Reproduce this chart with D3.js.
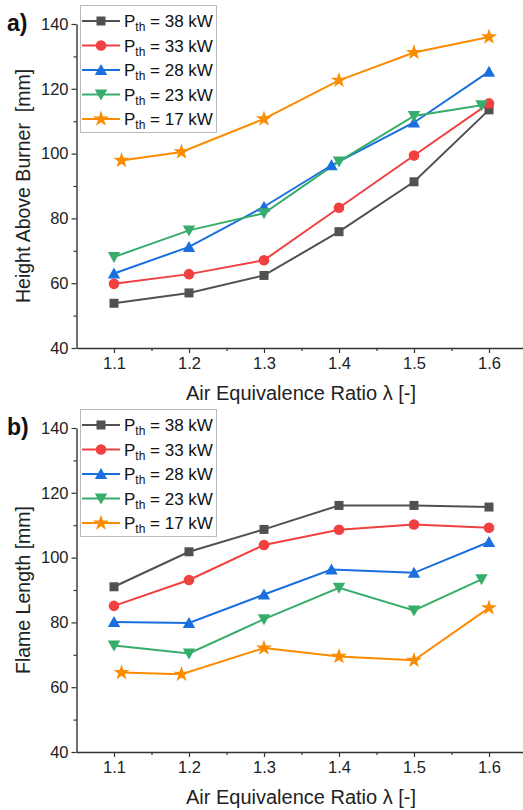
<!DOCTYPE html>
<html>
<head>
<meta charset="utf-8">
<script src="https://cdn.jsdelivr.net/npm/d3@7"></script>
<style>
  body { margin: 0; background: #fff; }
  svg { display: block; font-family: Arial, "Liberation Sans", sans-serif; }
</style>
</head>
<body>
<svg></svg>
<script>
// x values (air equivalence ratio)
const lambda = [1.1, 1.2, 1.3, 1.4, 1.5, 1.6];
const lambdaP17 = [1.11, 1.19, 1.3, 1.4, 1.5, 1.6];
const lambdaP28 = [1.1, 1.2, 1.3, 1.39, 1.5, 1.6];
const lambdaP23 = [1.1, 1.2, 1.3, 1.4, 1.5, 1.59];

const powers = ['38', '33', '28', '23', '17'];

// a) height above burner [mm]
const heightP38 = [53.8, 57.0, 62.4, 75.9, 91.3, 113.5];
const heightP33 = [59.8, 62.8, 67.1, 83.3, 99.4, 115.5];
const heightP28 = [63.0, 71.2, 83.6, 96.4, 109.6, 125.3];
const heightP23 = [68.1, 76.3, 81.6, 97.6, 111.6, 114.9];
const heightP17 = [97.9, 100.5, 110.7, 122.6, 131.2, 136.0];

// b) flame length [mm]
const lengthP38 = [91.0, 101.8, 108.7, 116.1, 116.1, 115.6];
const lengthP33 = [85.1, 93.1, 103.9, 108.6, 110.2, 109.2];
const lengthP28 = [80.1, 79.8, 88.6, 96.3, 95.3, 104.8];
const lengthP23 = [72.9, 70.4, 81.0, 90.7, 83.7, 93.3];
const lengthP17 = [64.5, 64.0, 72.1, 69.5, 68.3, 84.5];

const yTicks = [40, 60, 80, 100, 120, 140];
const yMinor = [50, 70, 90, 110, 130];
const xTicks = [1.1, 1.2, 1.3, 1.4, 1.5, 1.6];
const xMinor = [1.15, 1.25, 1.35, 1.45, 1.55];

const COLORS = ['#515151', '#f14040', '#1a6fdf', '#37ad6b', '#fb8c00'];
const SYMBOLS = ['square', 'circle', 'up', 'down', 'star'];

const svg = d3.select('svg').attr('width', 523).attr('height', 810);

const x = d3.scaleLinear().domain([1.05, 1.65]).range([76.5, 526.5]);

// draws one marker centred on 0,0
function marker(g, kind, color) {
    if (kind === 'square') {
        g.append('rect').attr('x', -4.5).attr('y', -4.5).attr('width', 9).attr('height', 9).attr('fill', color);
    } else if (kind === 'circle') {
        g.append('circle').attr('r', 5.3).attr('fill', color);
    } else if (kind === 'up') {
        g.append('path').attr('d', 'M0,-6 L6.2,5 L-6.2,5 Z').attr('fill', color);
    } else if (kind === 'down') {
        g.append('path').attr('d', 'M0,6 L6.2,-5 L-6.2,-5 Z').attr('fill', color);
    } else {
        g.append('path').attr('d', d3.symbol(d3.symbolStar, 80)()).attr('fill', color);
    }
}

function drawPanel(top, label, yTitle, series) {
    const y = d3.scaleLinear().domain([40, 140]).range([top + 324, top]);
    const g = svg.append('g');

    // axes
    g.append('g').attr('transform', 'translate(76.5,0)')
        .call(d3.axisLeft(y).tickValues(yTicks).tickSize(5).tickSizeOuter(0).tickPadding(3));
    g.append('g').attr('transform', 'translate(76.5,0)')
        .call(d3.axisLeft(y).tickValues(yMinor).tickSize(3).tickFormat(''))
        .select('.domain').remove();
    g.append('g').attr('transform', `translate(0,${top + 324})`)
        .call(d3.axisBottom(x).tickValues(xTicks).tickSize(5).tickSizeOuter(0).tickPadding(4).tickFormat(d3.format('.1f')));
    g.append('g').attr('transform', `translate(0,${top + 324})`)
        .call(d3.axisBottom(x).tickValues(xMinor).tickSize(3).tickFormat(''))
        .select('.domain').remove();

    g.selectAll('.domain').attr('stroke', '#333').attr('stroke-width', 1.4);
    g.selectAll('.tick line').attr('stroke', '#333').attr('stroke-width', 1.2);
    g.selectAll('.tick text').attr('fill', '#222').style('font-size', '16.5px');

    g.append('text').attr('transform', `translate(25,${top + 162}) rotate(-90)`)
        .attr('text-anchor', 'middle').attr('dominant-baseline', 'middle')
        .style('font-size', '19.5px').attr('fill', '#222').style('white-space', 'pre')
        .text(yTitle);
    g.append('text').attr('x', 301).attr('y', top + 371)
        .attr('text-anchor', 'middle').attr('dominant-baseline', 'middle')
        .style('font-size', '20px').attr('fill', '#222')
        .text('Air Equivalence Ratio λ [-]');

    g.append('text').attr('x', 7).attr('y', top + 1)
        .attr('dominant-baseline', 'middle')
        .style('font-size', '23px').style('font-weight', 'bold').attr('fill', '#111')
        .text(label);

    // lines and markers
    series.forEach((s, i) => {
        const pts = s.xs.map((v, k) => [x(v), y(s.ys[k])]);
        g.append('path').attr('d', d3.line()(pts))
            .attr('fill', 'none').attr('stroke', COLORS[i]).attr('stroke-width', 2);
    });
    series.forEach((s, i) => {
        s.xs.forEach((v, k) => {
            const m = g.append('g').attr('transform', `translate(${x(v)},${y(s.ys[k])})`);
            marker(m, SYMBOLS[i], COLORS[i]);
        });
    });

    // legend
    const lg = g.append('g');
    lg.append('rect').attr('x', 80.5).attr('y', top - 18.5).attr('width', 136).attr('height', 127)
        .attr('fill', '#fff').attr('stroke', '#bbb').attr('stroke-width', 1);
    powers.forEach((p, i) => {
        const ly = top - 3 + i * 24.5;
        lg.append('line').attr('x1', 82).attr('x2', 120).attr('y1', ly).attr('y2', ly)
            .attr('stroke', COLORS[i]).attr('stroke-width', 2);
        const m = lg.append('g').attr('transform', `translate(101,${ly})`);
        marker(m, SYMBOLS[i], COLORS[i]);
        const t = lg.append('text').attr('x', 124).attr('y', ly + 6)
            .style('font-size', '17px').attr('fill', '#111');
        t.append('tspan').text('P');
        t.append('tspan').attr('dy', 4).style('font-size', '12px').text('th');
        t.append('tspan').attr('dy', -4).text(` = ${p} kW`);
    });
}

drawPanel(24, 'a)', 'Height Above Burner  [mm]', [
    {xs: lambda, ys: heightP38},
    {xs: lambda, ys: heightP33},
    {xs: lambdaP28, ys: heightP28},
    {xs: lambdaP23, ys: heightP23},
    {xs: lambdaP17, ys: heightP17}
]);

drawPanel(428, 'b)', 'Flame Length [mm]', [
    {xs: lambda, ys: lengthP38},
    {xs: lambda, ys: lengthP33},
    {xs: lambdaP28, ys: lengthP28},
    {xs: lambdaP23, ys: lengthP23},
    {xs: lambdaP17, ys: lengthP17}
]);
</script>
</body>
</html>
